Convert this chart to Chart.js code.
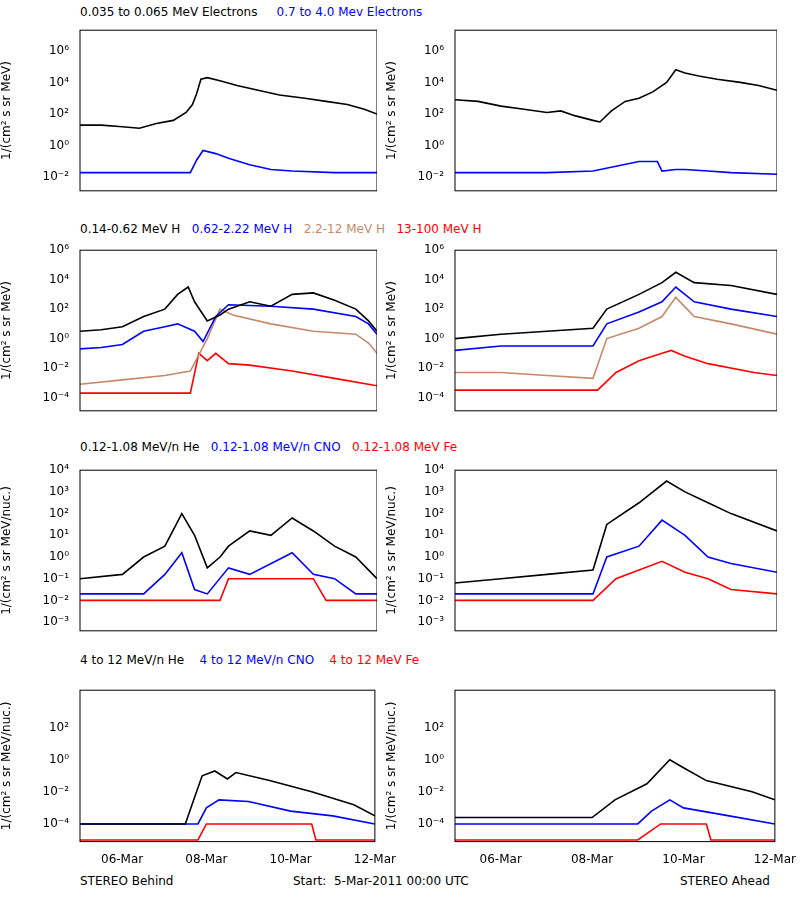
<!DOCTYPE html>
<html><head><meta charset="utf-8">
<script src="https://cdn.jsdelivr.net/npm/chart.js@4"></script>
<style>
body{margin:0;background:#fff;width:800px;height:900px;position:relative;font-family:"DejaVu Sans",sans-serif;overflow:hidden}
canvas{position:absolute}
.t{position:absolute;font-size:12px;white-space:nowrap}
</style></head><body>
<script>
// series values: [day since 5-Mar-2011 00:00, log10(flux)]
const tickDays=[1,3,5,7];
const tickLabels=['06-Mar','08-Mar','10-Mar','12-Mar'];
const BL_e1=[[0,1.3],[0.5,1.3],[1,1.2],[1.4,1.1],[1.8,1.4],[2.2,1.6],[2.5,2.1],[2.65,2.6],[2.75,3.3],[2.85,4.2],[3.0,4.3],[3.3,4.1],[3.7,3.8],[4.2,3.5],[4.7,3.2],[5.3,3.0],[5.8,2.8],[6.3,2.6],[6.7,2.3],[7,2.0]];
const BL_e2=[[0,-1.7],[1,-1.7],[2,-1.7],[2.6,-1.7],[2.75,-0.9],[2.9,-0.3],[3.2,-0.5],[3.5,-0.8],[4.0,-1.2],[4.5,-1.5],[5,-1.6],[6,-1.7],[7,-1.7]];
const AR_e1=[[0,2.9],[0.5,2.8],[1,2.5],[1.5,2.3],[2,2.1],[2.3,2.2],[2.6,1.9],[3.0,1.6],[3.15,1.5],[3.4,2.2],[3.7,2.8],[4.0,3.0],[4.3,3.4],[4.6,4.0],[4.8,4.8],[5.0,4.6],[5.3,4.4],[5.7,4.2],[6.2,4.0],[6.6,3.8],[7,3.5]];
const AR_e2=[[0,-1.7],[1,-1.7],[2,-1.7],[3,-1.6],[3.5,-1.3],[4.0,-1.0],[4.4,-1.0],[4.5,-1.6],[4.8,-1.5],[5.0,-1.5],[5.5,-1.6],[6,-1.7],[7,-1.8]];
const BL_h1=[[0,0.5],[0.5,0.6],[1,0.8],[1.5,1.5],[2,2.0],[2.3,3.0],[2.55,3.5],[2.7,2.5],[3.0,1.2],[3.3,1.6],[3.5,2.0],[4,2.5],[4.5,2.2],[5,3.0],[5.5,3.1],[6,2.6],[6.5,2.0],[6.8,1.2],[7,0.5]];
const BL_h2=[[0,-0.7],[0.5,-0.6],[1,-0.4],[1.5,0.5],[2,0.8],[2.3,1.0],[2.7,0.5],[2.9,-0.2],[3.2,1.5],[3.5,2.3],[4.5,2.2],[5.5,2.0],[6.5,1.5],[6.8,1.0],[7,0.3]];
const BL_h3=[[0,-3.1],[1,-2.8],[2,-2.5],[2.6,-2.2],[3.0,0.0],[3.3,2.0],[3.6,1.6],[4.5,1.0],[5.5,0.5],[6.5,0.3],[6.8,-0.3],[7,-1.0]];
const BL_h4=[[0,-3.7],[1,-3.7],[2,-3.7],[2.6,-3.7],[2.8,-1.0],[3.0,-1.5],[3.2,-1.0],[3.5,-1.7],[4,-1.8],[5,-2.2],[6,-2.7],[7,-3.2]];
const AR_h1=[[0,0.0],[1,0.3],[2,0.5],[3.0,0.7],[3.3,2.0],[4,3.0],[4.5,3.8],[4.8,4.5],[5.2,3.8],[6,3.6],[7,3.0]];
const AR_h2=[[0,-0.8],[1,-0.5],[2,-0.5],[3.0,-0.5],[3.3,1.0],[4,1.8],[4.5,2.5],[4.8,3.5],[5.2,2.5],[6,2.0],[7,1.5]];
const AR_h3=[[0,-2.3],[1,-2.3],[2,-2.5],[3.0,-2.7],[3.3,0.0],[4,0.7],[4.5,1.5],[4.8,2.8],[5.2,1.5],[6,1.0],[7,0.3]];
const AR_h4=[[0,-3.5],[1,-3.5],[2,-3.5],[3.1,-3.5],[3.5,-2.3],[4,-1.5],[4.5,-1.0],[4.7,-0.8],[5.0,-1.2],[5.5,-1.7],[6.5,-2.3],[7,-2.5]];
const BL_z1=[[0,-1.0],[1,-0.8],[1.5,0.0],[2,0.5],[2.4,2.0],[2.7,1.0],[3.0,-0.5],[3.3,0.0],[3.5,0.5],[4,1.2],[4.5,1.0],[5,1.8],[5.5,1.2],[6,0.5],[6.5,0.0],[7,-1.0]];
const BL_z2=[[0,-1.7],[1,-1.7],[1.5,-1.7],[2,-0.8],[2.4,0.2],[2.7,-1.5],[3,-1.7],[3.5,-0.5],[4,-0.8],[5,0.2],[5.5,-0.8],[6,-1.0],[6.5,-1.7],[7,-1.7]];
const BL_z3=[[0,-2.0],[1,-2.0],[2,-2.0],[3.3,-2.0],[3.5,-1.0],[4.5,-1.0],[5.5,-1.0],[5.8,-2.0],[7,-2.0]];
const AR_z1=[[0,-1.2],[1,-1.0],[2,-0.8],[3.0,-0.6],[3.3,1.5],[4,2.5],[4.6,3.5],[5,3.0],[5.5,2.5],[6,2.0],[7,1.2]];
const AR_z2=[[0,-1.7],[1,-1.7],[2,-1.7],[3.0,-1.7],[3.3,0.0],[4,0.5],[4.5,1.7],[5,1.0],[5.5,0.0],[6,-0.3],[7,-0.7]];
const AR_z3=[[0,-2.0],[1,-2.0],[2,-2.0],[3.0,-2.0],[3.5,-1.0],[4.5,-0.2],[5,-0.7],[5.5,-1.0],[6,-1.5],[7,-1.7]];
const BL_f1=[[0,-4],[1,-4],[2,-4],[2.5,-4],[2.7,-2.5],[2.9,-1.0],[3.2,-0.7],[3.5,-1.2],[3.7,-0.8],[4.5,-1.3],[5.5,-2.0],[6.5,-2.8],[7,-3.5]];
const BL_f2=[[0,-4],[1,-4],[2,-4],[2.8,-4],[3.0,-3.0],[3.3,-2.5],[4,-2.6],[5,-3.2],[6,-3.5],[7,-4]];
const BL_f3=[[0,-5],[2.8,-5],[3.0,-4],[5.5,-4],[5.6,-5],[7,-5]];
const AR_f1=[[0,-3.6],[1,-3.6],[2,-3.6],[3.0,-3.6],[3.5,-2.5],[4.2,-1.5],[4.7,0.0],[5,-0.5],[5.5,-1.3],[6.5,-2.0],[7,-2.5]];
const AR_f2=[[0,-4],[2,-4],[4,-4],[4.3,-3.2],[4.7,-2.5],[5,-3],[6,-3.5],[7,-4]];
const AR_f3=[[0,-5],[4,-5],[4.5,-4],[5.5,-4],[5.6,-5],[7,-5]];

const K='#000000',B='#0000ff',N='#c48a6a',R='#ff0000';
const sup={'-':'⁻','0':'⁰','1':'¹','2':'²','3':'³','4':'⁴','5':'⁵','6':'⁶','7':'⁷','8':'⁸','9':'⁹'};
const pw=n=>'10'+String(n).split('').map(c=>sup[c]).join('');
const box={id:'box',afterDraw(c){const a=c.chartArea,x=c.ctx;x.save();x.strokeStyle='#000';x.lineWidth=1;x.strokeRect(a.left,a.top,a.right-a.left,a.bottom-a.top);x.restore();}};

function panel(left,top,pwid,h,yw,series,ymin,ymax,e0,e1,step,title,bottom){
  const w=yw+pwid+(bottom?22:0);
  const cv=document.createElement('canvas');
  cv.style.left=left+'px';cv.style.top=top+'px';
  cv.width=w;cv.height=h;cv.style.width=w+'px';cv.style.height=h+'px';
  document.body.appendChild(cv);
  const decs=[];for(let e=e0;e<=e1;e+=step)decs.push(e);
  new Chart(cv,{type:'line',
    data:{datasets:series.map(([d,c])=>({data:d.map(p=>({x:p[0],y:Math.pow(10,p[1])})),borderColor:c,backgroundColor:c,borderWidth:1.6,pointRadius:0,tension:0}))},
    options:{responsive:false,animation:false,events:[],
      plugins:{legend:{display:false},tooltip:{enabled:false}},
      layout:{padding:0},
      scales:{
        x:{type:'linear',min:0,max:7,grid:{display:false},border:{display:false},
          afterBuildTicks:s=>{s.ticks=tickDays.map(v=>({value:v}));},
          ticks:{display:bottom,color:'#000',font:{size:12,family:'DejaVu Sans'},maxRotation:0,callback:(v)=>tickLabels[tickDays.indexOf(v)]}},
        y:{type:'logarithmic',min:Math.pow(10,ymin),max:Math.pow(10,ymax),grid:{display:false},border:{display:false},
          afterFit:s=>{s.width=yw;},
          afterBuildTicks:s=>{s.ticks=decs.map(e=>({value:Math.pow(10,e)}));},
          ticks:{color:'#000',font:{size:12,family:'DejaVu Sans'},callback:v=>pw(Math.round(Math.log10(v)))},
          title:{display:true,text:title,color:'#000',font:{size:12,family:'DejaVu Sans'},padding:0}}}},
    plugins:[box]});
}
const yt1='1/(cm² s sr MeV)',yt2='1/(cm² s sr MeV/nuc.)';
panel(0,20,297,181,80,[[BL_e1,K],[BL_e2,B]],-2.85,7.3,-2,6,2,yt1,false);
panel(385,20,322,181,70,[[AR_e1,K],[AR_e2,B]],-2.85,7.3,-2,6,2,yt1,false);
panel(0,240,297,181,80,[[BL_h1,K],[BL_h2,B],[BL_h3,N],[BL_h4,R]],-4.9,6,-4,6,2,yt1,false);
panel(385,240,322,181,70,[[AR_h1,K],[AR_h2,B],[AR_h3,N],[AR_h4,R]],-4.9,6,-4,6,2,yt1,false);
panel(0,460,297,181,80,[[BL_z1,K],[BL_z2,B],[BL_z3,R]],-3.4,4,-3,4,1,yt2,false);
panel(385,460,322,181,70,[[AR_z1,K],[AR_z2,B],[AR_z3,R]],-3.4,4,-3,4,1,yt2,false);
panel(0,680,297,190,80,[[BL_f1,K],[BL_f2,B],[BL_f3,R]],-5.1,4.33,-4,2,2,yt2,true);
panel(385,680,322,190,70,[[AR_f1,K],[AR_f2,B],[AR_f3,R]],-5.1,4.33,-4,2,2,yt2,true);

const texts=[
 [80,5,'<span style="color:#000">0.035 to 0.065 MeV Electrons</span>&nbsp;&nbsp;&nbsp;&nbsp;&nbsp;<span style="color:#00f">0.7 to 4.0 Mev Electrons</span>'],
 [80,222,'<span>0.14-0.62 MeV H</span>&nbsp;&nbsp;&nbsp;<span style="color:#00f">0.62-2.22 MeV H</span>&nbsp;&nbsp;&nbsp;<span style="color:'+N+'">2.2-12 MeV H</span>&nbsp;&nbsp;&nbsp;<span style="color:#f00">13-100 MeV H</span>'],
 [80,440,'<span>0.12-1.08 MeV/n He</span>&nbsp;&nbsp;&nbsp;<span style="color:#00f">0.12-1.08 MeV/n CNO</span>&nbsp;&nbsp;&nbsp;<span style="color:#f00">0.12-1.08 MeV Fe</span>'],
 [80,653,'<span>4 to 12 MeV/n He</span>&nbsp;&nbsp;&nbsp;&nbsp;<span style="color:#00f">4 to 12 MeV/n CNO</span>&nbsp;&nbsp;&nbsp;&nbsp;<span style="color:#f00">4 to 12 MeV Fe</span>'],
 [80,874,'STEREO Behind'],[293,874,'Start:&nbsp;&nbsp;5-Mar-2011 00:00 UTC'],[680,874,'STEREO Ahead']];
for(const [x,y,h] of texts){const d=document.createElement('div');d.className='t';d.style.left=x+'px';d.style.top=y+'px';d.innerHTML=h;document.body.appendChild(d);}
</script>
</body></html>
